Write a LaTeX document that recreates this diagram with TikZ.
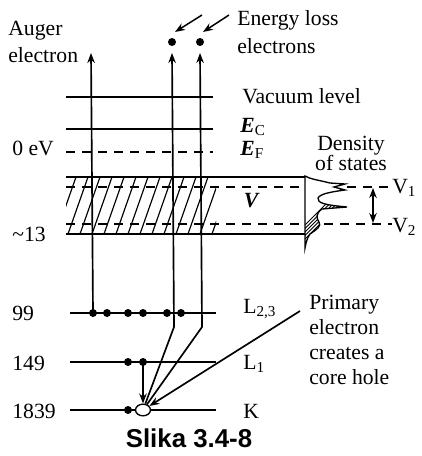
\documentclass[tikz,border=0pt]{standalone}
\usepackage{fontspec}
\setmainfont{Liberation Serif}
\newfontfamily\capfont{Liberation Sans}
\usetikzlibrary{arrows.meta,shapes.geometric}

\tikzset{
  level/.style={line width=1pt},
  dlevel/.style={line width=1pt,dash pattern=on 5.4pt off 4.2pt},
  elec/.style={->,line width=1pt},
  lbl/.style={font=\fontsize{13}{15}\selectfont,inner sep=0pt},
  hole/.style={draw,ellipse,fill=white,line width=0.8pt,minimum width=9pt,minimum height=7pt,inner sep=0pt},
}

\begin{document}
\begin{tikzpicture}[x=0.6pt,y=-0.6pt,>={Stealth[length=6pt,width=4.5pt]}]
\useasboundingbox (0,0) rectangle (421,456);

% hatched valence band
\begin{scope}
\clip (66,177) rectangle (216,234);
\foreach \i in {0,...,14} \draw[line width=0.7pt] ({44+12*\i},234) -- ({64+12*\i},177);
\end{scope}

\draw[level] (66,97) -- (213,97);
\draw[level] (66,129) -- (213,129);
\draw[dlevel] (66,152) -- (213,152);
\draw[level] (66,177) -- (305,177);
\draw[level] (66,234) -- (305,234);
\draw[dlevel] (66,187) -- (305,187);
\draw[dlevel] (66,224) -- (305,224);

% density of states
\def\dospath{(305,176) .. controls (310,179) and (318,180) .. (330,183) -- (345,184) -- (334,187) -- (345,190)
  .. controls (330,192) and (320,194) .. (318,198) .. controls (317,203) and (325,205) .. (347,207) -- (322,209)
  .. controls (316,213) and (316,218) .. (319,222) .. controls (322,226) and (316,230) .. (310,234)
  .. controls (307,238) and (306,243) .. (305,248) -- cycle}
\begin{scope}
\clip \dospath;
\foreach \i in {0,...,26} \draw[line width=0.5pt] ({280+3.5*\i},250) -- ({355+3.5*\i},175);
\end{scope}
\draw[line width=0.8pt] \dospath;
\draw[dlevel] (347,187) -- (392,187);
\draw[dlevel] (324,224) -- (392,224);
\coordinate (v1a) at (373,188); \coordinate (v2a) at (373,223);
\draw[<->,line width=0.8pt] (v1a) -- (v2a);

% core levels
\draw[level] (70,313) -- (216,313);
\draw[level] (70,362) -- (216,362);
\draw[level] (70,410) -- (216,410);

\foreach \x [count=\n] in {93,107,128,143,167,181} \fill (\x,313) coordinate (l23\n) circle (2.4pt);
\fill (128,362) coordinate (l1a) circle (2.4pt); \fill (143,362) coordinate (l1b) circle (2.4pt);
\fill (128,410) coordinate (ka) circle (2.4pt);
\node[hole] (hole) at (143,410) {};

% electrons
\coordinate (augtop) at (91,53);
\draw[elec] (l231) -- (augtop);
\draw[elec] (l1b) -- (hole);
\coordinate (bend1) at (174,327); \coordinate (top1) at (172,53);
\coordinate (bend2) at (202,327); \coordinate (top2) at (200,53);
\draw[elec] (hole) -- (bend1) -- (top1);
\draw[elec] (hole) -- (bend2) -- (top2);
\fill (172,42) coordinate (e1) circle (2.4pt);
\fill (200,42) coordinate (e2) circle (2.4pt);
\coordinate (p1) at (202,15); \coordinate (q1) at (175,32);
\coordinate (p2) at (229,15); \coordinate (q2) at (203,32);
\draw[->,line width=0.9pt] (p1) -- (q1);
\draw[->,line width=0.9pt] (p2) -- (q2);
\coordinate (prim) at (300,311);
\draw[elec] (prim) -- (hole);

% labels
\node[lbl,align=left,anchor=west,font=\fontsize{13}{16.2}\selectfont] (auger) at (8,42) {Auger\\electron};
\node[lbl,align=left,anchor=west,font=\fontsize{13}{16.8}\selectfont] (eloss) at (237,32) {Energy loss\\electrons};
\node[lbl,anchor=west] (vac) at (242,96) {Vacuum level};
\node[lbl,anchor=west] (ec) at (240,127) {{\bfseries\itshape E}\textsubscript{C}};
\node[lbl,anchor=west] (ef) at (240,150) {{\bfseries\itshape E}\textsubscript{F}};
\node[lbl,align=center,font=\fontsize{13}{12}\selectfont] (dos) at (351,153) {Density\\of states};
\node[lbl] (vband) at (251,201) {\bfseries\itshape V};
\node[lbl,anchor=west] (v1) at (392,188) {V\textsubscript{1}};
\node[lbl,anchor=west] (v2) at (392,227) {V\textsubscript{2}};
\node[lbl,anchor=west] (zero) at (12,148) {0 eV};
\node[lbl,anchor=west] (vb) at (12,234) {\textasciitilde13};
\node[lbl,anchor=west] (e99) at (12,313) {99};
\node[lbl,anchor=west] (e149) at (12,363) {149};
\node[lbl,anchor=west] (e1839) at (12,411) {1839};
\node[lbl,anchor=west] (l23) at (243,309) {L\textsubscript{2,3}};
\node[lbl,anchor=west] (l1) at (243,364) {L\textsubscript{1}};
\node[lbl,anchor=west] (k) at (243,411) {K};
\node[lbl,align=left,anchor=west] (primary) at (309,340) {Primary\\electron\\creates a\\core hole};
\node[font=\capfont\bfseries\fontsize{15.5}{18}\selectfont,inner sep=0pt] (caption) at (189,438) {Slika 3.4-8};
\end{tikzpicture}
\end{document}
